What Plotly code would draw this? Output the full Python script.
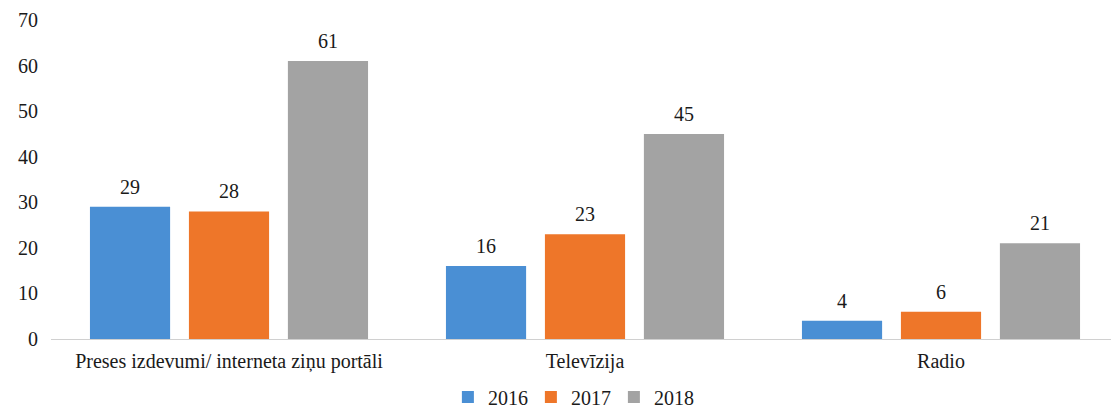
import plotly.graph_objects as go

categories = ["Preses izdevumi/ interneta ziņu portāli", "Televīzija", "Radio"]
years = ["2016", "2017", "2018"]
v2016 = [29, 16, 4]
v2017 = [28, 23, 6]
v2018 = [61, 45, 21]
series = [v2016, v2017, v2018]
colors = ["#4a8fd4", "#ee7629", "#a3a3a3"]

FONT = "Liberation Serif"
FS = 20
fig = go.Figure()
for name, vals, col in zip(years, series, colors):
    fig.add_trace(go.Bar(
        x=categories, y=vals, name=name,
        marker=dict(color=col, line=dict(width=0)),
    ))

# data labels above bars
slot = 99
for i, vals in enumerate(series):
    for c, v in zip(categories, vals):
        fig.add_annotation(x=c, y=v, text=str(v), showarrow=False,
                           xref="x", yref="y", xshift=(i - 1) * slot,
                           yanchor="bottom", yshift=7,
                           font=dict(family=FONT, size=FS, color="#1a1a1a"))

fig.update_layout(
    width=1111, height=403,
    margin=dict(l=43, r=0, t=12, b=72, autoexpand=False),
    paper_bgcolor="white", plot_bgcolor="white",
    barmode="group", bargap=0.166, bargroupgap=0.19,
    font=dict(family=FONT, size=FS, color="#1a1a1a"),
    showlegend=True,
    legend=dict(orientation="h", x=0.508, xanchor="center", xref="container",
                y=0.035, yanchor="middle", yref="container",
                entrywidth=38, entrywidthmode="pixels",
                font=dict(family=FONT, size=FS), itemwidth=30, traceorder="normal"),
)
fig.update_yaxes(range=[0, 70], dtick=10, showgrid=False, zeroline=False,
                 showline=False, ticks="", ticklen=0, automargin=False,
                 ticklabelstandoff=12,
                 tickfont=dict(family=FONT, size=FS))
fig.update_xaxes(showline=True, linecolor="#d0d0d0", linewidth=1, ticks="",
                 automargin=False, ticklabelstandoff=4,
                 tickfont=dict(family=FONT, size=FS))

fig.write_html("out.html")
